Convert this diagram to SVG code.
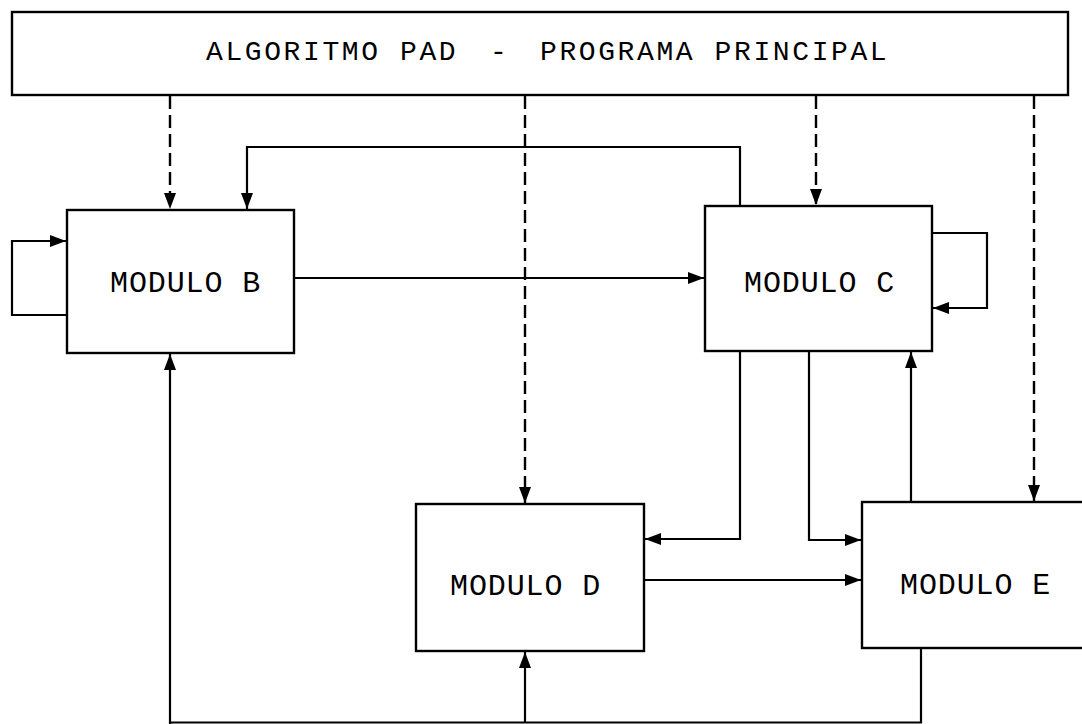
<svg xmlns="http://www.w3.org/2000/svg" width="1082" height="724" viewBox="0 0 1082 724">
<style>
.box{fill:#fff;stroke:#000;stroke-width:2.4}
.ln{fill:none;stroke:#000;stroke-width:2.2}
.dash{fill:none;stroke:#000;stroke-width:2.4;stroke-dasharray:13 6}
.t{font-family:"Liberation Mono","DejaVu Sans Mono",monospace;fill:#000}
.tt{font-size:28px;letter-spacing:2.6px}
.tm{font-size:30px;letter-spacing:0.9px}
</style>
<defs>
<marker id="ah" markerUnits="userSpaceOnUse" markerWidth="18" markerHeight="14" refX="16" refY="6" orient="auto">
<path d="M0,0 L16,6 L0,12 z" fill="#000"/>
</marker>
</defs>
<rect width="1082" height="724" fill="#fff"/>
<g id="connectors">
<line class="dash" x1="170" y1="96" x2="170" y2="209" marker-end="url(#ah)"/>
<line class="dash" x1="525" y1="96" x2="525" y2="503" marker-end="url(#ah)"/>
<line class="dash" x1="816" y1="96" x2="816" y2="205" marker-end="url(#ah)"/>
<line class="dash" x1="1034" y1="96" x2="1034" y2="501" marker-end="url(#ah)"/>
<path class="ln" d="M740,206 V147 H247 V209" marker-end="url(#ah)"/>
<path class="ln" d="M67,315 H12 V241 H66" marker-end="url(#ah)"/>
<line class="ln" x1="294" y1="278" x2="704" y2="278" marker-end="url(#ah)"/>
<path class="ln" d="M932,233 H987 V308 H933" marker-end="url(#ah)"/>
<path class="ln" d="M740,351 V539 H645" marker-end="url(#ah)"/>
<path class="ln" d="M809,351 V540 H861" marker-end="url(#ah)"/>
<line class="ln" x1="644" y1="580" x2="861" y2="580" marker-end="url(#ah)"/>
<line class="ln" x1="911" y1="502" x2="911" y2="352" marker-end="url(#ah)"/>
<path class="ln" d="M921,648 V722.5 H170"/>
<line class="ln" x1="170" y1="724" x2="170" y2="354" marker-end="url(#ah)"/>
<line class="ln" x1="525" y1="722.5" x2="525" y2="652" marker-end="url(#ah)"/>
</g>
<g id="main">
<rect class="box" x="12" y="12" width="1056" height="83"/>
<text class="t tt" y="60"><tspan x="206">ALGORITMO PAD </tspan><tspan x="490">- </tspan><tspan x="540">PROGRAMA PRINCIPAL</tspan></text>
</g>
<g id="moduloB">
<rect class="box" x="67" y="210" width="227" height="143"/>
<text class="t tm" x="110" y="292">MODULO B</text>
</g>
<g id="moduloC">
<rect class="box" x="705" y="206" width="227" height="145"/>
<text class="t tm" x="744" y="292">MODULO C</text>
</g>
<g id="moduloD">
<rect class="box" x="416" y="504" width="228" height="147"/>
<text class="t tm" x="450" y="595">MODULO D</text>
</g>
<g id="moduloE">
<rect class="box" x="862" y="502" width="240" height="146"/>
<text class="t tm" x="900" y="594">MODULO E</text>
</g>
</svg>
